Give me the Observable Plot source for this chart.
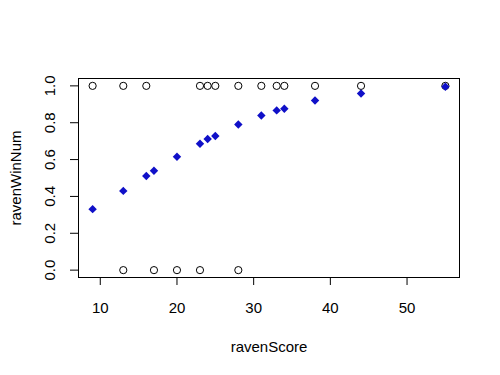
<!DOCTYPE html>
<html>
<head>
<meta charset="utf-8">
<script src="https://cdn.jsdelivr.net/npm/d3@7"></script>
<script src="https://cdn.jsdelivr.net/npm/@observablehq/plot@0.6"></script>
<style>
  html, body { margin: 0; padding: 0; background: #fff; }
</style>
</head>
<body>
<div id="chart"></div>
<script>
// Observed outcomes (open circles)
const winScores = [9, 13, 16, 23, 24, 25, 28, 31, 33, 34, 38, 44, 55];
const lossScores = [13, 17, 20, 23, 28];
// Fitted probabilities (blue diamonds)
const fitScores = [9, 13, 16, 17, 20, 23, 24, 25, 28, 31, 33, 34, 38, 44, 55];
const fitValues = [0.331, 0.430, 0.511, 0.539, 0.615, 0.686, 0.712, 0.728, 0.790, 0.839, 0.867, 0.876, 0.921, 0.959, 0.995];
const xTicks = [10, 20, 30, 40, 50];
const yTicks = [0, 0.2, 0.4, 0.6, 0.8, 1.0];

const observed = [
  ...winScores.map(s => ({ravenScore: s, ravenWinNum: 1})),
  ...lossScores.map(s => ({ravenScore: s, ravenWinNum: 0}))
];
const fitted = fitScores.map((s, i) => ({ravenScore: s, p: fitValues[i]}));

const chart = Plot.plot({
  width: 500,
  height: 375,
  marginLeft: 78,
  marginRight: 41,
  marginTop: 78,
  marginBottom: 98,
  style: {fontFamily: "'Liberation Sans', Arial, sans-serif", fontSize: "15px", color: "#000", background: "#fff"},
  x: {domain: [7.16, 56.84]},
  y: {domain: [-0.04, 1.04]},
  marks: [
    Plot.axisX({ticks: xTicks, tickSize: 8, tickPadding: 17, tickFormat: d => String(d),
      label: "ravenScore", labelAnchor: "center", labelArrow: "none", labelOffset: 74}),
    Plot.axisY({ticks: yTicks, tickSize: 8, tickPadding: 16, tickRotate: -90, tickFormat: d3.format(".1f"),
      label: "ravenWinNum", labelAnchor: "center", labelArrow: "none", labelOffset: 68}),
    Plot.frame({stroke: "#000", strokeWidth: 1}),
    Plot.dot(observed, {x: "ravenScore", y: "ravenWinNum", r: 3.6, stroke: "#000", strokeWidth: 1, fill: "none"}),
    Plot.dot(fitted, {x: "ravenScore", y: "p", symbol: "diamond2", r: 3.8, fill: "#1010c8", stroke: "none"})
  ]
});
document.getElementById("chart").appendChild(chart);
</script>
</body>
</html>
